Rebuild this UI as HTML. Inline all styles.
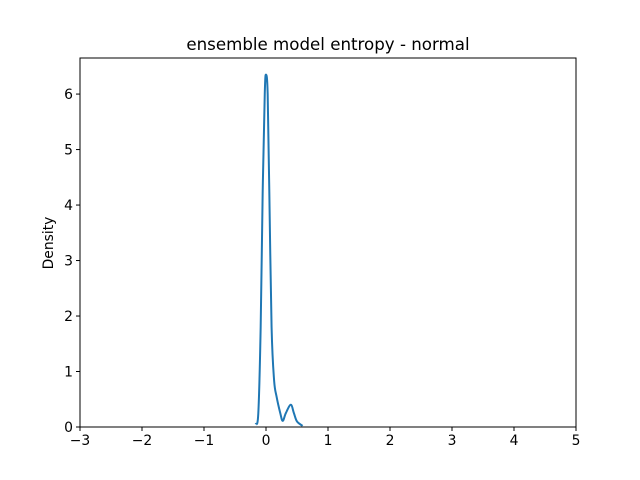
<!DOCTYPE html>
<html><head><meta charset="utf-8"><style>body{margin:0;background:#fff}svg{display:block}text{font-family:"DejaVu Sans","Liberation Sans",sans-serif;fill:#000}</style></head>
<body>
<svg id="c" width="640" height="480">
<rect width="640" height="480" fill="#fff"/>
<text x="328" y="50" font-size="16.67" text-anchor="middle">ensemble model entropy - normal</text>
<text transform="translate(53,243) rotate(-90)" font-size="13.9" text-anchor="middle">Density</text>
<g id="ticks"></g>
<path id="line" fill="none" stroke="#1f77b4" stroke-width="2" stroke-linejoin="round"/>
<rect x="80" y="58" width="496" height="369" fill="none" stroke="#000" stroke-width="1"/>
</svg>
<script>
const xVals=[-0.166,-0.124,-0.086,-0.054,-0.02,0,0.027,0.054,0.09,0.13,0.17,0.23,0.27,0.32,0.40,0.45,0.50,0.59];
const yVals=[0.05,0.25,1.8,4.2,6.0,6.35,6.0,4.2,1.8,0.85,0.55,0.25,0.11,0.25,0.40,0.25,0.1,0.02];
const xTicks=[-3,-2,-1,0,1,2,3,4,5];
const yTicks=[0,1,2,3,4,5,6];
const X0=80,X1=576,Y0=427,Y1=58,xmin=-3,xmax=5,ymin=0,ymax=6.65;
const sx=v=>X0+(v-xmin)/(xmax-xmin)*(X1-X0);
const sy=v=>Y0-(v-ymin)/(ymax-ymin)*(Y0-Y1);
const NS="http://www.w3.org/2000/svg",g=document.getElementById('ticks');
function mk(t,a){const e=document.createElementNS(NS,t);for(const k in a)e.setAttribute(k,a[k]);g.appendChild(e);return e;}
xTicks.forEach(v=>{const x=sx(v);
 const l=mk('line',{x1:x,x2:x,y1:Y0,y2:Y0+4,stroke:'#000'});
 
 
 const t=mk('text',{x:x,y:Y0+18,'font-size':13.9,'text-anchor':'middle'});t.textContent=v<0?'\u2212'+(-v):v;
 
 });
yTicks.forEach(v=>{const y=sy(v);
 const l=mk('line',{x1:X0-4,x2:X0,y1:y,y2:y,stroke:'#000'});
 
 
 const t=mk('text',{x:X0-7,y:y+5,'font-size':13.9,'text-anchor':'end'});t.textContent=v;
 
 });
const pts=xVals.map((v,i)=>[sx(v),sy(yVals[i])]);
let d='M'+pts[0][0]+','+pts[0][1];
for(let i=0;i<pts.length-1;i++){const p0=pts[i-1]||pts[i],p1=pts[i],p2=pts[i+1],p3=pts[i+2]||p2;
 d+=' C'+(p1[0]+(p2[0]-p0[0])/6)+','+(p1[1]+(p2[1]-p0[1])/6)+' '+(p2[0]-(p3[0]-p1[0])/6)+','+(p2[1]-(p3[1]-p1[1])/6)+' '+p2[0]+','+p2[1];}
document.getElementById('line').setAttribute('d',d);
</script>
</body></html>
